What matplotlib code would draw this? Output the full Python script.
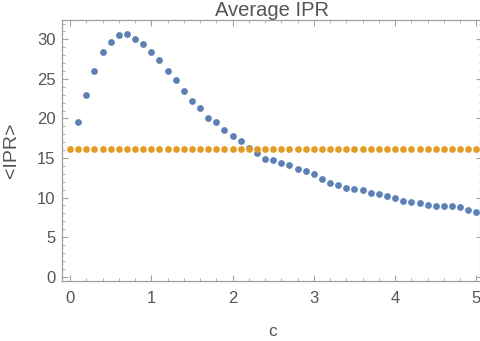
import numpy as np
import matplotlib
matplotlib.use("Agg")
import matplotlib.pyplot as plt
from matplotlib.ticker import MultipleLocator

plt.rcParams['font.family'] = ['Liberation Sans', 'DejaVu Sans']

# average IPR vs c
c_blue = [0.1, 0.2, 0.3, 0.4, 0.5, 0.6, 0.7, 0.8, 0.9, 1.0,
          1.1, 1.2, 1.3, 1.4, 1.5, 1.6, 1.7, 1.8, 1.9, 2.0,
          2.1, 2.2, 2.3, 2.4, 2.5, 2.6, 2.7, 2.8, 2.9, 3.0,
          3.1, 3.2, 3.3, 3.4, 3.5, 3.6, 3.7, 3.8, 3.9, 4.0,
          4.1, 4.2, 4.3, 4.4, 4.5, 4.6, 4.7, 4.8, 4.9, 5.0]
ipr_blue = [19.6, 23.0, 26.0, 28.4, 29.7, 30.6, 30.7, 30.1, 29.4, 28.4,
            27.4, 26.0, 24.9, 23.5, 22.2, 21.3, 20.0, 19.5, 18.5, 17.8,
            17.1, 16.3, 15.6, 14.9, 14.8, 14.4, 14.1, 13.6, 13.3, 13.0,
            12.4, 11.9, 11.6, 11.25, 11.05, 10.9, 10.55, 10.4, 10.25, 9.9,
            9.55, 9.4, 9.25, 9.05, 8.9, 8.9, 8.9, 8.75, 8.4, 8.2]
c_orange = [round(0.1 * i, 1) for i in range(51)]
ipr_orange = [16.2] * 51

txt = '#555555'
frame = '#a0a0a0'

fig = plt.figure(figsize=(4.81, 3.41), dpi=100)
ax = fig.add_axes([62.3 / 481, 60 / 341, (482.5 - 62.3) / 481, (281.3 - 20.7) / 341])

ax.scatter(c_blue, ipr_blue, s=24, color='#5E81B5', linewidths=0, zorder=3)
ax.scatter(c_orange, ipr_orange, s=24, color='#E19C24', linewidths=0, zorder=3)

ax.set_xlim(-0.095, 5.075)
ax.set_ylim(-0.55, 32.4)

ax.xaxis.set_major_locator(MultipleLocator(1))
ax.xaxis.set_minor_locator(MultipleLocator(0.2))
ax.yaxis.set_major_locator(MultipleLocator(5))
ax.yaxis.set_minor_locator(MultipleLocator(1))
ax.tick_params(which='both', direction='in', top=True, right=True, color=frame,
               labelcolor=txt, labelsize=12)
ax.tick_params(which='major', length=4.5, width=0.8)
ax.tick_params(which='minor', length=2.5, width=0.6)
ax.tick_params(axis='x', pad=7)
ax.tick_params(axis='y', pad=5)
for s in ax.spines.values():
    s.set_color(frame)
    s.set_linewidth(0.9)

ax.set_title('Average IPR', color=txt, fontsize=14.5, pad=1)
ax.set_xlabel('c', color=txt, fontsize=12.5, labelpad=13)
ax.set_ylabel('<IPR>', color=txt, fontsize=14, labelpad=12)

fig.savefig('out.png', dpi=100)
